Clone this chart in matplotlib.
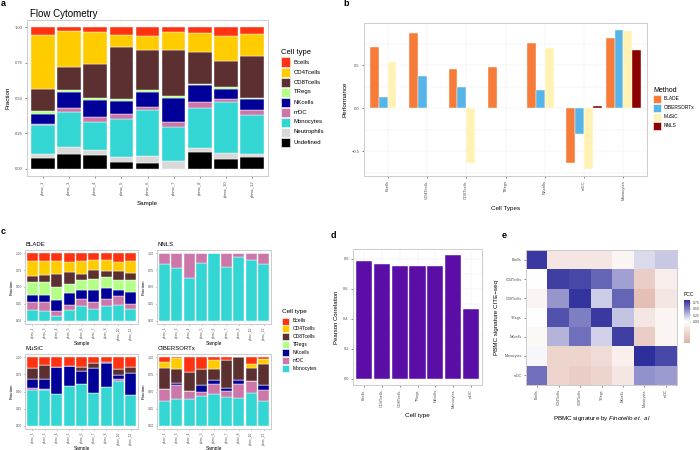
import numpy as np
import matplotlib
matplotlib.use("Agg")
import matplotlib.pyplot as plt
from matplotlib.patches import Rectangle
from matplotlib.colors import LinearSegmentedColormap, TwoSlopeNorm

plt.rcParams['font.family'] = ['Liberation Sans', 'DejaVu Sans']
plt.rcParams['mathtext.fontset'] = 'custom'
plt.rcParams['mathtext.it'] = 'Liberation Sans:italic'
plt.rcParams['mathtext.rm'] = 'Liberation Sans'

# ---------------- data ----------------
samples = ['pbmc_1', 'pbmc_3', 'pbmc_4', 'pbmc_5', 'pbmc_6', 'pbmc_7', 'pbmc_8', 'pbmc_10', 'pbmc_12']
flow_types = ['Bcells', 'CD4Tcells', 'CD8Tcells', 'TRegs', 'NKcells', 'mDC', 'Monocytes', 'Neutrophils', 'Undefined']
flow_B = [0.055, 0.026, 0.036, 0.057, 0.062, 0.038, 0.043, 0.062, 0.050]
flow_CD4 = [0.382, 0.258, 0.224, 0.086, 0.098, 0.124, 0.131, 0.179, 0.153]
flow_CD8 = [0.158, 0.162, 0.241, 0.367, 0.282, 0.325, 0.229, 0.184, 0.297]
flow_TReg = [0.015, 0.014, 0.015, 0.010, 0.014, 0.013, 0.007, 0.012, 0.004]
flow_NK = [0.070, 0.113, 0.116, 0.090, 0.104, 0.170, 0.115, 0.067, 0.081]
flow_mDC = [0.010, 0.027, 0.034, 0.037, 0.025, 0.034, 0.045, 0.021, 0.038]
flow_Mono = [0.205, 0.247, 0.198, 0.269, 0.322, 0.241, 0.282, 0.365, 0.272]
flow_Neut = [0.025, 0.048, 0.036, 0.034, 0.048, 0.055, 0.026, 0.038, 0.024]
flow_Und = [0.080, 0.105, 0.100, 0.050, 0.045, 0.000, 0.122, 0.072, 0.081]

decon_types = ['Bcells', 'CD4Tcells', 'CD8Tcells', 'TRegs', 'NKcells', 'mDC', 'Monocytes']
blade_B = [0.115, 0.115, 0.115, 0.13, 0.12, 0.10, 0.105, 0.125, 0.11]
blade_CD4 = [0.215, 0.20, 0.185, 0.15, 0.18, 0.15, 0.155, 0.13, 0.18]
blade_CD8 = [0.09, 0.105, 0.205, 0.17, 0.09, 0.125, 0.095, 0.135, 0.11]
blade_TReg = [0.20, 0.195, 0.185, 0.14, 0.16, 0.175, 0.16, 0.15, 0.175]
blade_NK = [0.11, 0.115, 0.165, 0.175, 0.125, 0.175, 0.165, 0.10, 0.175]
blade_mDC = [0.11, 0.12, 0.075, 0.075, 0.11, 0.105, 0.105, 0.125, 0.08]
blade_Mono = [0.16, 0.15, 0.07, 0.16, 0.215, 0.17, 0.215, 0.235, 0.17]

nnls_mDC = [0.155, 0.222, 0.372, 0.15, 0.0, 0.203, 0.048, 0.10, 0.16]
nnls_Mono = [0.845, 0.778, 0.628, 0.85, 1.0, 0.797, 0.952, 0.90, 0.84]

music_B = [0.15, 0.115, 0.134, 0.124, 0.14, 0.086, 0.072, 0.167, 0.139]
music_CD8 = [0.166, 0.201, 0.005, 0.0, 0.06, 0.067, 0.005, 0.087, 0.095]
music_NK = [0.129, 0.148, 0.392, 0.288, 0.197, 0.364, 0.354, 0.066, 0.316]
music_mDC = [0.029, 0.014, 0.0, 0.0, 0.0, 0.0, 0.0, 0.02, 0.0]
music_Mono = [0.526, 0.522, 0.469, 0.588, 0.603, 0.483, 0.569, 0.66, 0.45]

cib_B = [0.06, 0.005, 0.216, 0.168, 0.034, 0.038, 0.0, 0.10, 0.024]
cib_CD4 = [0.10, 0.165, 0.0, 0.0, 0.134, 0.0, 0.0, 0.06, 0.072]
cib_CD8 = [0.297, 0.205, 0.279, 0.232, 0.169, 0.414, 0.327, 0.191, 0.314]
cib_NK = [0.0, 0.035, 0.0, 0.114, 0.057, 0.034, 0.067, 0.0, 0.071]
cib_mDC = [0.183, 0.20, 0.115, 0.046, 0.136, 0.101, 0.197, 0.173, 0.154]
cib_Mono = [0.36, 0.39, 0.39, 0.44, 0.47, 0.413, 0.409, 0.476, 0.365]

perf_types = ['Bcells', 'CD4Tcells', 'CD8Tcells', 'TRegs', 'NKcells', 'mDC', 'Monocytes']
methods = ['BLADE', 'CIBERSORTx', 'MuSiC', 'NNLS']
perf_BLADE = [0.709, 0.872, 0.453, 0.477, 0.752, -0.64, 0.818]
perf_CIB = [0.128, 0.38, 0.252, np.nan, 0.217, -0.295, 0.91]
perf_MuSiC = [0.535, np.nan, -0.64, np.nan, 0.698, -0.70, 0.90]
perf_NNLS = [np.nan, np.nan, np.nan, np.nan, np.nan, 0.027, 0.678]

corr_types = ['Bcells', 'CD4Tcells', 'CD8Tcells', 'TRegs', 'NKcells', 'Monocytes', 'mDC']
corr_vals = [0.784, 0.764, 0.751, 0.751, 0.751, 0.824, 0.464]

pcc_types = ['Bcells', 'CD4Tcells', 'CD8Tcells', 'TRegs', 'NKcells', 'Monocytes', 'mDC']
pcc_Bcells = [0.80, -0.07, -0.07, -0.07, -0.03, 0.15, 0.22]
pcc_CD4 = [0.00, 0.78, 0.74, 0.62, 0.38, -0.14, -0.05]
pcc_CD8 = [-0.03, 0.42, 0.82, 0.20, 0.62, -0.18, -0.07]
pcc_TRegs = [0.00, 0.70, 0.52, 0.80, 0.24, -0.07, -0.03]
pcc_NK = [-0.02, 0.30, 0.58, 0.18, 0.78, -0.14, -0.03]
pcc_Mono = [0.03, -0.12, -0.12, -0.10, -0.04, 0.86, 0.74]
pcc_mDC = [0.58, -0.12, -0.14, -0.12, -0.07, 0.44, 0.40]

# ---------------- style ----------------
type_colors = {'Bcells': '#FF3311', 'CD4Tcells': '#FFCC00', 'CD8Tcells': '#5C3030',
               'TRegs': '#B3FF88', 'NKcells': '#000099', 'mDC': '#CC77AA',
               'Monocytes': '#33D6D3', 'Neutrophils': '#D9D9D9', 'Undefined': '#000000'}
method_colors = ['#F77B39', '#56B4E9', '#FFF2B3', '#8B0000']
GRID = '#EBEBEB'
W, H = 700, 450
fig = plt.figure(figsize=(7, 4.5), dpi=100)


def add_ax(x0, y0, x1, y1):
    return fig.add_axes([x0 / W, 1 - y1 / H, (x1 - x0) / W, (y1 - y0) / H])


def style(ax, fs=3.2):
    for s in ax.spines.values():
        s.set_color('#CCCCCC')
        s.set_linewidth(0.7)
    ax.tick_params(colors='#333333', labelcolor='#4D4D4D', labelsize=fs, length=1.5, width=0.4, pad=1.5)
    ax.set_axisbelow(True)


def ftext(x, y, s, **kw):
    fig.text(x / W, 1 - y / H, s, **kw)


def legend_box(x, y, title, labels, colors, size, step, fs, tfs, gap=4):
    ftext(x, y, title, fontsize=tfs, va='center', ha='left')
    for i, (lab, c) in enumerate(zip(labels, colors)):
        yc = y + 10 + i * step if step > 9 else y + 9 + i * step
        fig.patches.append(Rectangle((x / W, 1 - (yc + size / 2) / H), size / W, size / H,
                                     transform=fig.transFigure, facecolor=c, edgecolor='white', lw=0.4))
        ftext(x + size + gap, yc, lab, fontsize=fs, va='center', ha='left')


def stacked(ax, layers, cols):
    x = np.arange(len(samples))
    bottom = np.zeros(len(samples))
    for vals, c in zip(layers, cols):
        v = np.array(vals)
        ax.bar(x, v, bottom=bottom, width=0.9, color=c, edgecolor='white', linewidth=0.3)
        bottom += v
    ax.set_xlim(-0.6, len(samples) - 0.4)
    ax.set_ylim(-0.05, 1.05)
    ax.set_yticks([0, 0.25, 0.5, 0.75, 1.0])
    ax.set_yticklabels(['0.00', '0.25', '0.50', '0.75', '1.00'])
    ax.set_xticks(x)
    ax.set_xticklabels(samples, rotation=90)
    ax.grid(True, color=GRID, lw=0.3)


# ---------------- panel a ----------------
axa = add_ax(27, 20, 268, 176)
style(axa, 3.0)
stacked(axa, [flow_Und, flow_Neut, flow_Mono, flow_mDC, flow_NK, flow_TReg, flow_CD8, flow_CD4, flow_B],
        [type_colors[t] for t in ['Undefined', 'Neutrophils', 'Monocytes', 'mDC', 'NKcells', 'TRegs',
                                  'CD8Tcells', 'CD4Tcells', 'Bcells']])
axa.set_ylabel('Fraction', fontsize=4.5, labelpad=3)
axa.set_xlabel('Sample', fontsize=4.5, labelpad=3)
ftext(30, 14, 'Flow Cytometry', fontsize=7, va='center')
ftext(1, 4, 'a', fontsize=6.5, fontweight='bold', va='center')
legend_box(281, 52, 'Cell type', flow_types, [type_colors[t] for t in flow_types], 9, 10, 4.3, 5.5)

# ---------------- panel b ----------------
axb = add_ax(364, 23, 647, 176)
style(axb, 3.0)
xb = np.arange(len(perf_types))
bw = 0.225
for k, (vals, c) in enumerate(zip([perf_BLADE, perf_CIB, perf_MuSiC, perf_NNLS], method_colors)):
    axb.bar(xb + (k - 1.5) * bw, vals, width=bw, color=c, edgecolor='white', linewidth=0.3)
axb.set_xlim(-0.6, len(perf_types) - 0.4)
axb.set_ylim(-0.787, 0.99)
axb.set_yticks([-0.5, 0.0, 0.5])
axb.set_yticks([-0.75, -0.25, 0.25, 0.75], minor=True)
axb.tick_params(which='minor', length=0)
axb.set_xticks(xb)
axb.set_xticklabels(perf_types, rotation=90)
axb.grid(True, which='both', color=GRID, lw=0.3)
axb.set_ylabel('Performance', fontsize=4.5, labelpad=3)
axb.set_xlabel('Cell Types', fontsize=4.5, labelpad=4)
ftext(343, 4, 'b', fontsize=6.5, fontweight='bold', va='center')
legend_box(653, 90, 'Method', methods, method_colors, 8, 8.9, 3.5, 5.0, gap=3)

# ---------------- panel c ----------------
c_order = ['Monocytes', 'mDC', 'NKcells', 'TRegs', 'CD8Tcells', 'CD4Tcells', 'Bcells']
c_cols = [type_colors[t] for t in c_order]
zeros = [0.0] * len(samples)
panels_c = [
    ('BLADE', (25, 250, 138, 324), [blade_Mono, blade_mDC, blade_NK, blade_TReg, blade_CD8, blade_CD4, blade_B]),
    ('NNLS', (157, 250, 271, 324), [nnls_Mono, nnls_mDC, zeros, zeros, zeros, zeros, zeros]),
    ('MuSiC', (25, 354, 138, 429), [music_Mono, music_mDC, music_NK, zeros, music_CD8, zeros, music_B]),
    ('CIBERSORTx', (157, 354, 271, 429), [cib_Mono, cib_mDC, cib_NK, zeros, cib_CD8, cib_CD4, cib_B]),
]
for title, (x0, y0, x1, y1), layers in panels_c:
    ax = add_ax(x0, y0, x1, y1)
    style(ax, 2.3)
    ax.tick_params(length=1.0, pad=1)
    stacked(ax, layers, c_cols)
    ax.set_ylabel('Fraction', fontsize=3.2, labelpad=2)
    ax.set_xlabel('Sample', fontsize=3.4, labelpad=1)
    ftext(x0 + 1, y0 - 5, title, fontsize=4.3, va='center')
ftext(1, 232, 'c', fontsize=6.5, fontweight='bold', va='center')
legend_box(282, 312, 'Cell type', decon_types, [type_colors[t] for t in decon_types], 7, 7.9, 3.6, 4.6)

# ---------------- panel d ----------------
axd = add_ax(353, 249, 482, 385)
style(axd, 2.8)
xd = np.arange(len(corr_types))
axd.bar(xd, corr_vals, width=0.9, color='#5A0EA6', edgecolor='white', linewidth=0.3)
axd.set_xlim(-0.6, len(corr_types) - 0.4)
axd.set_ylim(-0.041, 0.865)
axd.set_yticks([0, 0.2, 0.4, 0.6, 0.8])
axd.set_yticks([0.1, 0.3, 0.5, 0.7], minor=True)
axd.tick_params(which='minor', length=0)
axd.set_xticks(xd)
axd.set_xticklabels(corr_types, rotation=90)
axd.grid(True, which='both', color=GRID, lw=0.3)
axd.set_ylabel('Pearson Correlation', fontsize=4.3, labelpad=3)
axd.set_xlabel('Cell type', fontsize=4.6, labelpad=4)
ftext(331, 235, 'd', fontsize=6.5, fontweight='bold', va='center')

# ---------------- panel e ----------------
axe = add_ax(526, 250, 677, 385)
style(axe, 2.6)
mat = np.array([pcc_Bcells, pcc_CD4, pcc_CD8, pcc_TRegs, pcc_NK, pcc_Mono, pcc_mDC])
cmap = LinearSegmentedColormap.from_list('pcc', ['#DFB2A6', '#FFFFFF', '#2E2E9C'])
norm = TwoSlopeNorm(vmin=-0.22, vcenter=0.0, vmax=0.85)
n = len(pcc_types)
im = axe.imshow(mat, cmap=cmap, norm=norm, aspect='auto',
                extent=(-0.5, n - 0.5, n - 0.5, -0.5), interpolation='nearest')
axe.set_xticks(np.arange(n))
axe.set_xticklabels(pcc_types, rotation=90)
axe.set_yticks(np.arange(n))
axe.set_yticklabels(pcc_types)
axe.set_xlim(-0.52, n - 0.48)
axe.set_ylim(n - 0.48, -0.52)
axe.set_ylabel('PBMC signature CITE\u2212seq', fontsize=4.5, labelpad=4)
axe.set_xlabel(r'PBMC signature by $\it{Finotello\ et.\ al}$', fontsize=4.5, labelpad=5)
ftext(502, 235, 'e', fontsize=6.5, fontweight='bold', va='center')
cax = add_ax(684, 300, 690, 343)
cb = fig.colorbar(im, cax=cax, ticks=[0, 0.25, 0.5, 0.75])
cb.ax.set_yticklabels(['0.00', '0.25', '0.50', '0.75'])
cb.ax.tick_params(labelsize=2.6, length=1, width=0.3, pad=1, colors='#4D4D4D')
cb.outline.set_visible(False)
ftext(684, 295, 'PCC', fontsize=3.6, va='center')

fig.savefig('out.png', dpi=100)
